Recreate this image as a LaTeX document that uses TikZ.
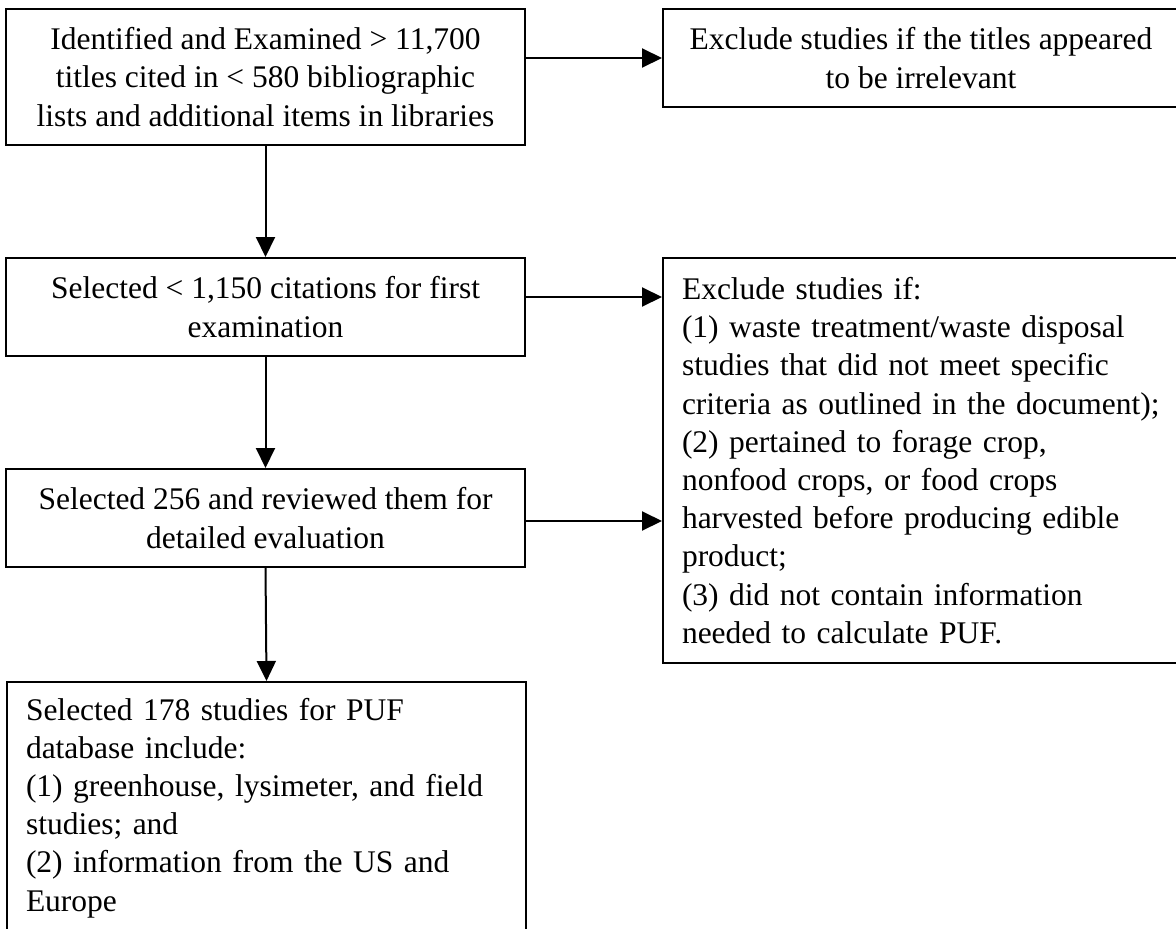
\documentclass[tikz,border=0pt]{standalone}
\usepackage{fontspec}
\setmainfont{Liberation Serif}
\usetikzlibrary{arrows.meta,calc}
\begin{document}
\begin{tikzpicture}[x=1pt,y=-1pt,
  box/.style={draw, line width=2pt, inner sep=0pt, font=\fontsize{31.5}{38.2}\selectfont},
  conn/.style={line width=2pt, -{Triangle[length=20pt,width=19pt]}}]
\path[use as bounding box, clip] (0,0) rectangle (1176,929);
\node[box, minimum width=519pt, minimum height=136pt, align=center] (b1) at (265.5,77)
  {Identified and Examined > 11,700\\titles cited in < 580 bibliographic\\lists and additional items in libraries};
\node[box, minimum width=516pt, minimum height=98pt, align=center] (b2) at (921,58)
  {Exclude studies if the titles appeared\\to be irrelevant};
\node[box, minimum width=519pt, minimum height=98pt, align=center] (b3) at (265.5,307)
  {Selected < 1,150 citations for first\\examination};
\node[box, minimum width=519pt, minimum height=98pt, align=center] (b4) at (265.5,518)
  {Selected 256 and reviewed them for\\detailed evaluation};
\node[box, minimum height=405pt, text width=478pt, inner xsep=19pt, align=left] (b5) at (921,460.5)
  {Exclude studies if:\\(1) waste treatment/waste disposal\\studies that did not meet specific\\criteria as outlined in the document);\\(2) pertained to forage crop,\\nonfood crops, or food crops\\harvested before producing edible\\product;\\(3) did not contain information\\needed to calculate PUF.};
\node[box, anchor=north west, text width=481pt, inner xsep=19pt, inner ysep=16pt, align=left] (b6) at (6,681)
  {Selected 178 studies for PUF\\database include:\\(1) greenhouse, lysimeter, and field\\studies; and\\(2) information from the US and\\Europe};
\draw[conn] (b1.south) -- (b3.north);
\draw[conn] (b3.south) -- (b4.north);
\draw[conn] (b4.south) -- (b6.north);
\draw[conn] (b2.west -| b1.east) -- (b2.west);
\draw[conn] ([yshift=10pt]b3.east) -- ([yshift=10pt]b3.east -| b5.west);
\draw[conn] ([yshift=-3pt]b4.east) -- ([yshift=-3pt]b4.east -| b5.west);
\end{tikzpicture}
\end{document}
